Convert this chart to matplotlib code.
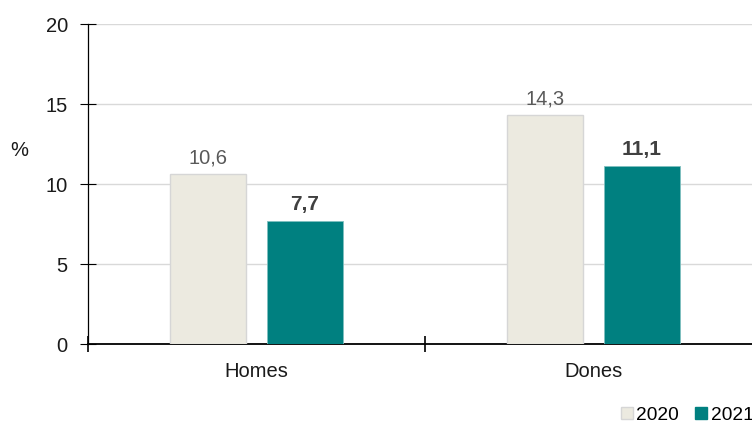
import matplotlib
matplotlib.use("Agg")
import matplotlib.pyplot as plt
from matplotlib.patches import Patch
import numpy as np

categories = ["Homes", "Dones"]
series_names = ["2020", "2021"]
values_2020 = [10.6, 14.3]
values_2021 = [7.7, 11.1]
labels_2020 = ["10,6", "14,3"]
labels_2021 = ["7,7", "11,1"]
yticks = [0, 5, 10, 15, 20]

plt.rcParams['font.family'] = ['Liberation Sans', 'DejaVu Sans']

FS = 14.5
W, H = 752, 423
fig = plt.figure(figsize=(W / 100, H / 100), dpi=100)
left, right, bottom, top = 88, 762, 423 - 344, 423 - 24
ax = fig.add_axes([left / W, bottom / H, (right - left) / W, (top - bottom) / H])

c2020 = "#ECEAE0"
c2021 = "#008080"
x = np.arange(len(categories))
bw = 0.225
off = 0.143
b1 = ax.bar(x - off, values_2020, bw, color=c2020, edgecolor="#D6D6D6", linewidth=1, zorder=3)
b2 = ax.bar(x + off, values_2021, bw, color=c2021, edgecolor="#7FBFBF", linewidth=0.6, zorder=3)

for rect, lab in zip(b1, labels_2020):
    ax.annotate(lab, (rect.get_x() + rect.get_width() / 2, rect.get_height()),
                xytext=(0, 5), textcoords="offset points", ha="center", va="bottom",
                fontsize=FS, color="#595959")
for rect, lab in zip(b2, labels_2021):
    ax.annotate(lab, (rect.get_x() + rect.get_width() / 2, rect.get_height()),
                xytext=(0, 5), textcoords="offset points", ha="center", va="bottom",
                fontsize=FS + 0.5, color="#404040", fontweight="bold")

ax.set_xlim(-0.5, 1.5)
ax.set_ylim(0, 20)
ax.set_yticks(yticks)
ax.set_yticklabels([str(t) for t in yticks], fontsize=FS, color="#1a1a1a")
ax.yaxis.grid(True, color="#D9D9D9", linewidth=1, zorder=0)
ax.set_axisbelow(True)

ax.set_xticks(x)
ax.set_xticklabels(categories, fontsize=FS, color="#1a1a1a")
ax.tick_params(axis="x", which="major", length=0, pad=13)
ax.set_xticks([-0.5, 0.5, 1.5], minor=True)
ax.tick_params(axis="x", which="minor", direction="inout", length=11, width=1.2, color="black")
ax.tick_params(axis="y", direction="inout", length=11, width=0.8, color="black", pad=9)

for s in ["top", "right"]:
    ax.spines[s].set_visible(False)
ax.spines["left"].set_linewidth(0.9)
ax.spines["bottom"].set_linewidth(1.3)

fig.text(19 / W, (423 - 150) / H, "%", fontsize=FS, color="#1a1a1a", ha="center", va="center")

handles = [Patch(facecolor=c2020, edgecolor="#D6D6D6"), Patch(facecolor=c2021, edgecolor=c2021)]
fig.legend(handles, series_names, loc="center left", bbox_to_anchor=(621 / W, 8 / H),
           frameon=False, fontsize=13.8, handlelength=0.6, handleheight=0.6,
           handletextpad=0.2, columnspacing=0.85, ncol=2, borderpad=0, borderaxespad=0)

fig.savefig("out.png", dpi=100)
